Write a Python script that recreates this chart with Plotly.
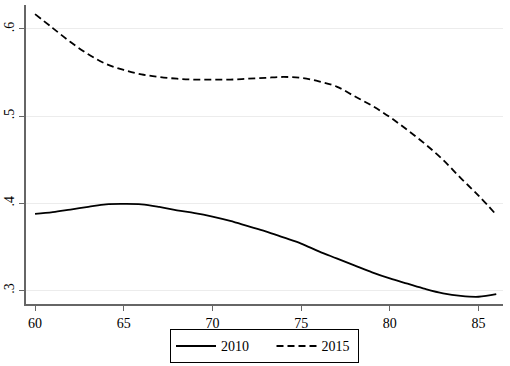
import plotly.graph_objects as go

ages = list(range(60, 87))
y2010 = [0.388, 0.390, 0.393, 0.396, 0.399, 0.3995, 0.399, 0.396, 0.392, 0.389, 0.385,
         0.380, 0.374, 0.368, 0.361, 0.354, 0.345, 0.337, 0.329, 0.321, 0.314, 0.308,
         0.302, 0.297, 0.294, 0.293, 0.296]
y2015 = [0.617, 0.601, 0.585, 0.571, 0.560, 0.553, 0.548, 0.545, 0.543, 0.542, 0.542,
         0.542, 0.543, 0.544, 0.545, 0.544, 0.540, 0.534, 0.523, 0.512, 0.499, 0.484,
         0.468, 0.450, 0.429, 0.409, 0.387]
xticks = [60, 65, 70, 75, 80, 85]
yticks = [0.3, 0.4, 0.5, 0.6]
yticklabels = [".3", ".4", ".5", ".6"]
series_names = ["2010", "2015"]

font = dict(family="Liberation Serif, Times New Roman, serif", size=14, color="black")
pad = "\u00a0" * 5

fig = go.Figure()
fig.add_trace(go.Scatter(x=ages, y=y2010, mode="lines", name=series_names[0] + pad,
                         line=dict(color="black", width=1.8, shape="spline")))
fig.add_trace(go.Scatter(x=ages, y=y2015, mode="lines", name=series_names[1] + "\u00a0",
                         line=dict(color="black", width=1.8, shape="spline", dash="7px,4px")))

fig.update_layout(
    width=510, height=366,
    margin=dict(l=26, r=7, t=5, b=62, autoexpand=False),
    paper_bgcolor="white", plot_bgcolor="white",
    font=font,
    showlegend=True,
    legend=dict(orientation="h", x=0.5, xanchor="center", y=-0.085, yanchor="top",
                bordercolor="black", borderwidth=1, font=font,
                itemwidth=40, tracegroupgap=0),
    xaxis=dict(range=[59.49, 86.38], tickvals=xticks, showgrid=False, zeroline=False,
               automargin=False,
               showline=True, linecolor="#666666", linewidth=1.5,
               ticks="outside", ticklen=5, tickcolor="#666666", tickfont=font),
    yaxis=dict(range=[0.2847, 0.6275], tickvals=yticks, ticktext=yticklabels,
               automargin=False,
               tickangle=-90, showgrid=True, gridcolor="#ececec", gridwidth=1,
               zeroline=False, showline=True, linecolor="#666666", linewidth=1.5,
               ticks="outside", ticklen=5, tickcolor="#666666", tickfont=font),
)

fig.write_html("out.html", config={"displayModeBar": False},
               post_script="document.body.style.margin='0';document.body.style.overflow='hidden';")
